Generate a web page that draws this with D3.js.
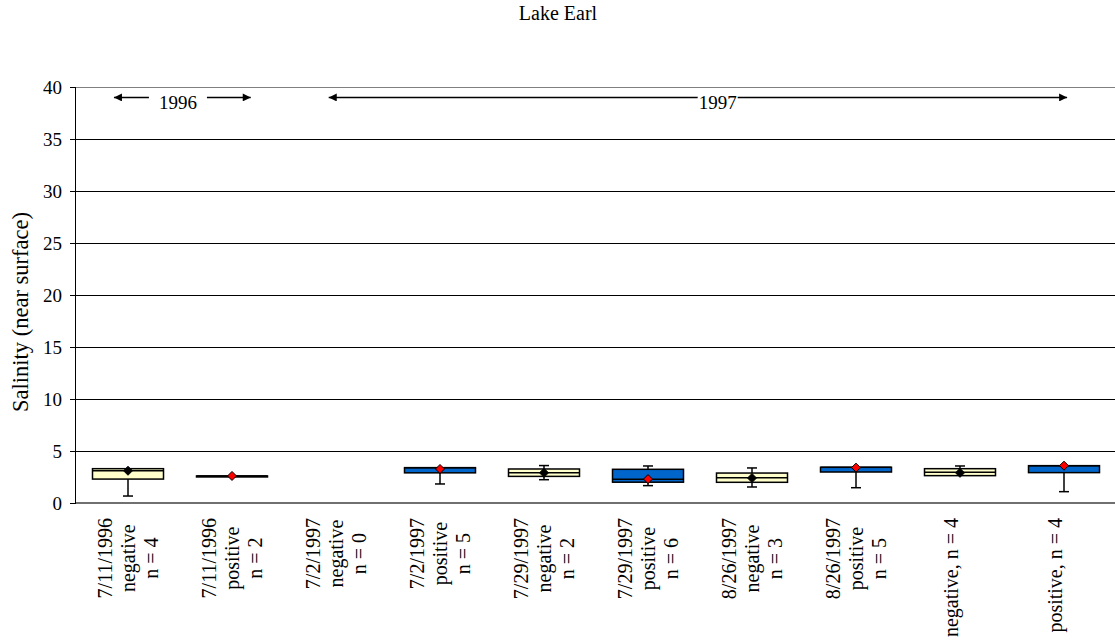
<!DOCTYPE html>
<html><head><meta charset="utf-8">
<script src="https://cdn.jsdelivr.net/npm/d3@7"></script>
<style>html,body{margin:0;padding:0;background:#fff;}</style>
</head><body>
<svg id="c" width="1115" height="643"></svg>
<script>
const title = "Lake Earl";
const yTitle = "Salinity (near surface)";
const categories = [
  ["7/11/1996","negative","n = 4"],
  ["7/11/1996","positive","n = 2"],
  ["7/2/1997","negative","n = 0"],
  ["7/2/1997","positive","n = 5"],
  ["7/29/1997","negative","n = 2"],
  ["7/29/1997","positive","n = 6"],
  ["8/26/1997","negative","n = 3"],
  ["8/26/1997","positive","n = 5"],
  ["negative, n = 4"],
  ["positive, n = 4"]
];
const groups  = ["neg","pos","neg","pos","neg","pos","neg","pos","neg","pos"];
const minVals = [0.67, 2.6, null, 1.83, 2.24, 1.67, 1.54, 1.47, 2.63, 1.09];
const q1Vals  = [2.3,  2.6, null, 2.9,  2.56, 2.0,  1.99, 2.98, 2.63, 2.92];
const medVals = [3.1,  2.6, null, 3.4,  2.9,  2.28, 2.43, 3.43, 2.95, 3.59];
const q3Vals  = [3.3,  2.6, null, 3.4,  3.27, 3.24, 2.88, 3.43, 3.3,  3.59];
const maxVals = [3.3,  2.6, null, 3.4,  3.6,  3.56, 3.37, 3.43, 3.56, 3.59];
const meanVals= [3.1,  2.6, null, 3.27, 2.9,  2.3,  2.4,  3.4,  2.9,  3.59];
const yTicks = [0,5,10,15,20,25,30,35,40];
// year span annotations, positions in category-index units
const yearSpans = [
  {label:"1996", from:-0.135, to:1.18, at:0.48, pad:10},
  {label:"1997", from:1.93, to:9.03, at:5.67, pad:1}
];
const yearY = 39;

const FONT = "'Liberation Serif'";
const L = 76, R = 1116, T = 87, B = 503;
const y = d3.scaleLinear().domain([0,40]).range([B,T]);
const x = d3.scaleBand().domain(d3.range(categories.length)).range([L,R]).paddingInner(0).paddingOuter(0);
const xi = d3.scaleLinear().domain([-0.5, categories.length-0.5]).range([L,R]);
const bw = 71, capW = 10;
const fills = {neg:"#FFFFCC", pos:"#0066CC"};

function draw(){
  const svg = d3.select("#c");
  svg.selectAll("*").remove();
  svg.append("text").attr("x",558).attr("y",20).attr("text-anchor","middle").attr("font-size",20).style("font-family",FONT).text(title);

  svg.append("g").selectAll("line").data(yTicks.filter(t=>t>0&&t<40)).join("line")
    .attr("x1",L).attr("x2",R).attr("y1",d=>y(d)).attr("y2",d=>y(d)).attr("stroke","#000").attr("stroke-width",1).attr("shape-rendering","crispEdges");
  svg.append("line").attr("x1",L).attr("x2",R).attr("y1",y(40)).attr("y2",y(40)).attr("stroke","#808080").attr("shape-rendering","crispEdges");

  const ya = svg.append("g").attr("transform",`translate(${L},0)`).call(d3.axisLeft(y).tickValues(yTicks).tickSize(6).tickPadding(8));
  ya.attr("font-family",null).attr("font-size",null);
  ya.selectAll("path").attr("stroke","#000").attr("d",`M-0.5,${T}V${B}`);
  ya.selectAll("line").attr("stroke","#000");
  ya.selectAll("text").attr("font-size",19).style("font-family",FONT);
  svg.append("line").attr("x1",L).attr("x2",R).attr("y1",B).attr("y2",B).attr("stroke","#404040").attr("stroke-width",1.5);

  svg.append("text").attr("transform",`translate(28,312) rotate(-90)`).attr("text-anchor","middle").attr("font-size",22.5).style("font-family",FONT).text(yTitle);

  const data = categories.map((c,i)=>({i, g:groups[i], min:minVals[i], q1:q1Vals[i], med:medVals[i], q3:q3Vals[i], max:maxVals[i], mean:meanVals[i]})).filter(d=>d.q1!=null);
  const gb = svg.append("g");
  data.forEach(d=>{
    const cx = x(d.i)+x.bandwidth()/2;
    const g = gb.append("g");
    const wl = (a,b)=>{ if (Math.abs(y(a)-y(b))<0.5) return;
      g.append("line").attr("x1",cx).attr("x2",cx).attr("y1",y(a)).attr("y2",y(b)).attr("stroke","#000").attr("stroke-width",1.5);
      g.append("line").attr("x1",cx-capW/2).attr("x2",cx+capW/2).attr("y1",y(b)).attr("y2",y(b)).attr("stroke","#000").attr("stroke-width",1.5);
    };
    wl(d.q1,d.min); wl(d.q3,d.max);
    const top = y(d.q3), h = Math.max(y(d.q1)-y(d.q3),1);
    g.append("rect").attr("x",cx-bw/2).attr("y",top).attr("width",bw).attr("height",h)
      .attr("fill",fills[d.g]).attr("stroke","#000").attr("stroke-width",1.5);
    g.append("line").attr("x1",cx-bw/2).attr("x2",cx+bw/2).attr("y1",y(d.med)).attr("y2",y(d.med)).attr("stroke","#000").attr("stroke-width",1.5);
    const s = 4.5, my = y(d.mean);
    g.append("path").attr("d",`M${cx},${my-s}L${cx+s},${my}L${cx},${my+s}L${cx-s},${my}Z`)
      .attr("fill", d.g==="pos" ? "#FF0000" : "#000").attr("stroke","#000").attr("stroke-width",1);
  });

  categories.forEach((lines,i)=>{
    const cx = x(i)+x.bandwidth()/2;
    const n = lines.length;
    const off = n===1 ? -2 : 7;
    const g = svg.append("g");
    const texts = lines.map((t,k)=> g.append("text").attr("font-size",20).attr("text-anchor","middle").style("font-family",FONT).text(t));
    const maxW = d3.max(texts, t=>t.node().getComputedTextLength());
    const cy = 518 + maxW/2;
    texts.forEach((t,k)=>{
      const bx = cx + off + (k-(n-1)/2)*23;
      t.attr("transform",`translate(${bx},${cy}) rotate(-90)`);
    });
  });

  const defs = svg.append("defs");
  defs.append("marker").attr("id","ah").attr("viewBox","0 0 10 10").attr("refX",10).attr("refY",5)
    .attr("markerWidth",10).attr("markerHeight",8).attr("markerUnits","userSpaceOnUse").attr("orient","auto")
    .append("path").attr("d","M0,0L10,5L0,10Z").attr("fill","#000");
  yearSpans.forEach(s=>{
    const tx = xi(s.at), ay = y(yearY);
    const t = svg.append("text").attr("x",tx).attr("y",ay+12).attr("text-anchor","middle").attr("font-size",19).style("font-family",FONT).text(s.label);
    const w = t.node().getComputedTextLength();
    svg.append("line").attr("x1",tx-w/2-s.pad).attr("x2",xi(s.from)).attr("y1",ay).attr("y2",ay)
      .attr("stroke","#000").attr("stroke-width",1.5).attr("marker-end","url(#ah)");
    svg.append("line").attr("x1",tx+w/2+s.pad).attr("x2",xi(s.to)).attr("y1",ay).attr("y2",ay)
      .attr("stroke","#000").attr("stroke-width",1.5).attr("marker-end","url(#ah)");
  });
}

draw();
if (document.fonts && document.fonts.load) {
  Promise.all([
    document.fonts.load("19px 'Liberation Serif'"),
    document.fonts.load("20px 'Liberation Serif'"),
    document.fonts.load("22.5px 'Liberation Serif'")
  ]).then(()=>document.fonts.ready).then(()=>{ draw(); requestAnimationFrame(()=>draw()); });
}
</script>
</body></html>
